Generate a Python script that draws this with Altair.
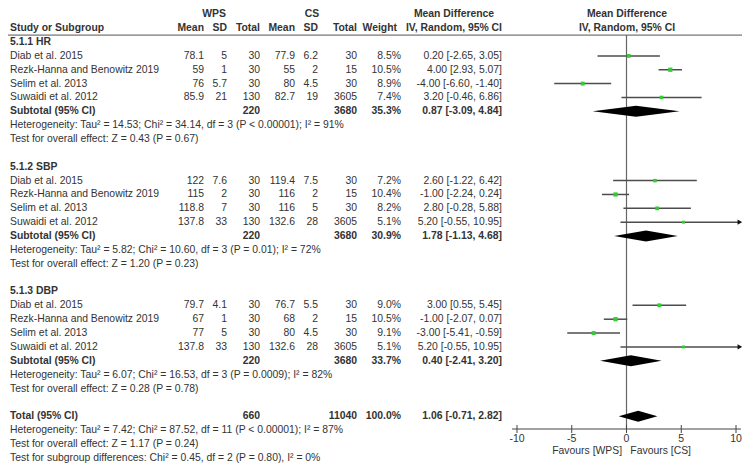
import altair as alt
import pandas as pd

# ---------------- data ----------------
STUDIES = ["Diab et al. 2015", "Rezk-Hanna and Benowitz 2019", "Selim et al. 2013", "Suwaidi et al. 2012"]
GROUPS = ["5.1.1 HR", "5.1.2 SBP", "5.1.3 DBP"]
WPS_MEAN = [[78.1, 59, 76, 85.9], [122, 115, 118.8, 137.8], [79.7, 67, 77, 137.8]]
WPS_SD = [[5, 1, 5.7, 21], [7.6, 2, 7, 33], [4.1, 1, 5, 33]]
WPS_N = [30, 30, 30, 130]
CS_MEAN = [[77.9, 55, 80, 82.7], [119.4, 116, 116, 132.6], [76.7, 68, 80, 132.6]]
CS_SD = [[6.2, 2, 4.5, 19], [7.5, 2, 5, 28], [5.5, 2, 4.5, 28]]
CS_N = [30, 15, 30, 3605]
WEIGHT = [[8.5, 10.5, 8.9, 7.4], [7.2, 10.4, 8.2, 5.1], [9.0, 10.5, 9.1, 5.1]]
MD = [[0.20, 4.00, -4.00, 3.20], [2.60, -1.00, 2.80, 5.20], [3.00, -1.00, -3.00, 5.20]]
LO = [[-2.65, 2.93, -6.60, -0.46], [-1.22, -2.24, -0.28, -0.55], [0.55, -2.07, -5.41, -0.55]]
HI = [[3.05, 5.07, -1.40, 6.86], [6.42, 0.24, 5.88, 10.95], [5.45, 0.07, -0.59, 10.95]]
SUB_N_WPS = [220, 220, 220]
SUB_N_CS = [3680, 3680, 3680]
SUB_WEIGHT = [35.3, 30.9, 33.7]
SUB_MD = [0.87, 1.78, 0.40]
SUB_LO = [-3.09, -1.13, -2.41]
SUB_HI = [4.84, 4.68, 3.20]
HETERO = [
    "Heterogeneity: Tau\u00b2 = 14.53; Chi\u00b2 = 34.14, df = 3 (P < 0.00001); I\u00b2 = 91%",
    "Heterogeneity: Tau\u00b2 = 5.82; Chi\u00b2 = 10.60, df = 3 (P = 0.01); I\u00b2 = 72%",
    "Heterogeneity: Tau\u00b2 = 6.07; Chi\u00b2 = 16.53, df = 3 (P = 0.0009); I\u00b2 = 82%",
]
OVERALL = [
    "Test for overall effect: Z = 0.43 (P = 0.67)",
    "Test for overall effect: Z = 1.20 (P = 0.23)",
    "Test for overall effect: Z = 0.28 (P = 0.78)",
]
TOTAL_N_WPS = 660
TOTAL_N_CS = 11040
TOTAL_WEIGHT = 100.0
TOTAL_MD, TOTAL_LO, TOTAL_HI = 1.06, -0.71, 2.82
TOTAL_LINES = [
    "Heterogeneity: Tau\u00b2 = 7.42; Chi\u00b2 = 87.52, df = 11 (P < 0.00001); I\u00b2 = 87%",
    "Test for overall effect: Z = 1.17 (P = 0.24)",
    "Test for subgroup differences: Chi\u00b2 = 0.45, df = 2 (P = 0.80), I\u00b2 = 0%",
]
AXIS_TICKS = [-10, -5, 0, 5, 10]
AXIS_LABELS = ["-10", "-5", "0", "5", "10"]
FAVOURS = ["Favours [WPS]", "Favours [CS]"]

# ---------------- style / layout ----------------
FONT = "Liberation Sans"
FS = 10.4
TXT = "#333333"
W, H = 734, 468
COLS = {  # x pixel, alignment
    "study": (2, "left"),
    "wps_head": (206, "center"),
    "wps_mean": (196, "right"),
    "wps_sd": (219, "right"),
    "wps_n": (252, "right"),
    "cs_head": (304, "center"),
    "cs_mean": (287, "right"),
    "cs_sd": (310, "right"),
    "cs_n": (349, "right"),
    "weight_head": (389, "right"),
    "weight": (393, "right"),
    "md_head": (446, "center"),
    "ci": (494, "right"),
    "plot_head": (619, "center"),
}
ROW_TOP, ROW_BOTTOM = -2, 30
YSCALE = alt.Scale(domain=[ROW_TOP, ROW_BOTTOM], range=[6.3, 449.8], zero=False, nice=False)
XSCALE = alt.Scale(domain=[-10, 10], range=[509, 728], zero=False, nice=False)
AXIS_Y = 421  # pixel row of the forest axis line


def fmt(v):
    return f"{v:g}"


def ci(m, l, h):
    return f"{m:.2f} [{l:.2f}, {h:.2f}]"


cells = []


def add(row, col, text, bold=False):
    cells.append(dict(row=row, col=col, text=str(text), bold=bold))


# header
add(-2, "wps_head", "WPS", True)
add(-2, "cs_head", "CS", True)
add(-2, "md_head", "Mean Difference", True)
add(-2, "plot_head", "Mean Difference", True)
for col, t in [("study", "Study or Subgroup"), ("wps_mean", "Mean"), ("wps_sd", "SD"), ("wps_n", "Total"),
               ("cs_mean", "Mean"), ("cs_sd", "SD"), ("cs_n", "Total"), ("weight_head", "Weight"),
               ("ci", "IV, Random, 95% CI"), ("plot_head", "IV, Random, 95% CI")]:
    add(-1, col, t, True)

study_rows = []
diamonds = []
for g, name in enumerate(GROUPS):
    base = g * 9
    add(base, "study", name, True)
    for i, s in enumerate(STUDIES):
        r = base + 1 + i
        add(r, "study", s)
        add(r, "wps_mean", fmt(WPS_MEAN[g][i]))
        add(r, "wps_sd", fmt(WPS_SD[g][i]))
        add(r, "wps_n", WPS_N[i])
        add(r, "cs_mean", fmt(CS_MEAN[g][i]))
        add(r, "cs_sd", fmt(CS_SD[g][i]))
        add(r, "cs_n", CS_N[i])
        add(r, "weight", f"{WEIGHT[g][i]:.1f}%")
        add(r, "ci", ci(MD[g][i], LO[g][i], HI[g][i]))
        study_rows.append(dict(row=r, md=MD[g][i], lo=LO[g][i], hi=min(HI[g][i], 10.2),
                               w=WEIGHT[g][i], arrow=bool(HI[g][i] > 10), ax=10.35))
    rs = base + 5
    add(rs, "study", "Subtotal (95% CI)", True)
    add(rs, "wps_n", SUB_N_WPS[g], True)
    add(rs, "cs_n", SUB_N_CS[g], True)
    add(rs, "weight", f"{SUB_WEIGHT[g]:.1f}%", True)
    add(rs, "ci", ci(SUB_MD[g], SUB_LO[g], SUB_HI[g]), True)
    diamonds.append((g, rs, SUB_LO[g], SUB_MD[g], SUB_HI[g]))
    add(base + 6, "study", HETERO[g])
    add(base + 7, "study", OVERALL[g])

rt = 27
add(rt, "study", "Total (95% CI)", True)
add(rt, "wps_n", TOTAL_N_WPS, True)
add(rt, "cs_n", TOTAL_N_CS, True)
add(rt, "weight", f"{TOTAL_WEIGHT:.1f}%", True)
add(rt, "ci", ci(TOTAL_MD, TOTAL_LO, TOTAL_HI), True)
diamonds.append((3, rt, TOTAL_LO, TOTAL_MD, TOTAL_HI))
for k, t in enumerate(TOTAL_LINES):
    add(rt + 1 + k, "study", t)

cells_df = pd.DataFrame(cells)
studies_df = pd.DataFrame(study_rows)

dia_pts = []
HALF = 0.4
for g, r, l, m, h in diamonds:
    dia_pts += [dict(g=g, x=l, top=r, bot=r), dict(g=g, x=m, top=r - HALF, bot=r + HALF),
                dict(g=g, x=h, top=r, bot=r)]
dia_df = pd.DataFrame(dia_pts)

Y = alt.Y("row:Q", scale=YSCALE, axis=None)

layers = []

# header separator line
layers.append(
    alt.Chart(pd.DataFrame({"row": [-0.5]})).mark_rule(color="#555555", strokeWidth=1).encode(
        x=alt.value(0), x2=alt.value(W), y=Y)
)

# text table
for (col, bold), sub in cells_df.groupby(["col", "bold"]):
    xpx, align = COLS[col]
    layers.append(
        alt.Chart(sub).mark_text(align=align, baseline="middle", font=FONT, fontSize=FS, color=TXT,
                                 fontWeight="bold" if bold else "normal").encode(
            x=alt.value(xpx), y=Y, text="text:N")
    )

# zero line
layers.append(
    alt.Chart(pd.DataFrame({"x": [0], "row": [-0.5], "row2": [27.92]})).mark_rule(
        color="#666666", strokeWidth=1.2).encode(
        x=alt.X("x:Q", scale=XSCALE, axis=None), y=Y, y2="row2:Q")
)

# forest axis: domain line, ticks, labels
layers.append(
    alt.Chart(pd.DataFrame({"a": [-10.45], "b": [10.45]})).mark_rule(color="#444444", strokeWidth=1.2).encode(
        x=alt.X("a:Q", scale=XSCALE, axis=None), x2="b:Q", y=alt.value(AXIS_Y))
)
ticks_df = pd.DataFrame({"t": AXIS_TICKS, "label": AXIS_LABELS})
layers.append(
    alt.Chart(ticks_df).mark_rule(color="#444444", strokeWidth=1).encode(
        x=alt.X("t:Q", scale=XSCALE, axis=None), y=alt.value(AXIS_Y - 4), y2=alt.value(AXIS_Y + 4))
)
layers.append(
    alt.Chart(ticks_df).mark_text(align="center", baseline="middle", font=FONT, fontSize=10.5,
                                  color=TXT).encode(
        x=alt.X("t:Q", scale=XSCALE, axis=None), y=alt.value(AXIS_Y + 10), text="label:N")
)

# CI lines
layers.append(
    alt.Chart(studies_df).mark_rule(color="#4d4d4d", strokeWidth=1.5).encode(
        x=alt.X("lo:Q", scale=XSCALE, axis=None), x2="hi:Q", y=Y)
)
# arrows
layers.append(
    alt.Chart(studies_df[studies_df["arrow"]]).mark_point(
        shape="triangle-right", filled=True, color="#111111", size=28, opacity=1).encode(
        x=alt.X("ax:Q", scale=XSCALE, axis=None), y=Y)
)
# point estimates
layers.append(
    alt.Chart(studies_df).mark_square(color="#33cc33", opacity=1).encode(
        x=alt.X("md:Q", scale=XSCALE, axis=None), y=Y,
        size=alt.Size("w:Q", scale=alt.Scale(domain=[0, 10.5], range=[0, 18]), legend=None))
)
# diamonds
layers.append(
    alt.Chart(dia_df).mark_area(color="black", opacity=1, orient="vertical").encode(
        x=alt.X("x:Q", scale=XSCALE, axis=None),
        y=alt.Y("top:Q", scale=YSCALE, axis=None, stack=None), y2="bot:Q", detail="g:N")
)
# favours labels
fav_df = pd.DataFrame({"x": [-0.4, 0.35], "row": [29.5, 29.5], "text": FAVOURS})
layers.append(
    alt.Chart(fav_df.iloc[[0]]).mark_text(align="right", baseline="middle", font=FONT, fontSize=FS,
                                          color=TXT).encode(
        x=alt.X("x:Q", scale=XSCALE, axis=None), y=Y, text="text:N")
)
layers.append(
    alt.Chart(fav_df.iloc[[1]]).mark_text(align="left", baseline="middle", font=FONT, fontSize=FS,
                                          color=TXT).encode(
        x=alt.X("x:Q", scale=XSCALE, axis=None), y=Y, text="text:N")
)

chart = alt.layer(*layers).properties(
    width=W, height=H, padding=0, autosize=alt.AutoSizeParams(type="none"), background="white"
).configure_view(strokeWidth=0)

chart.save("out.html", embed_options={"renderer": "svg", "actions": False})
